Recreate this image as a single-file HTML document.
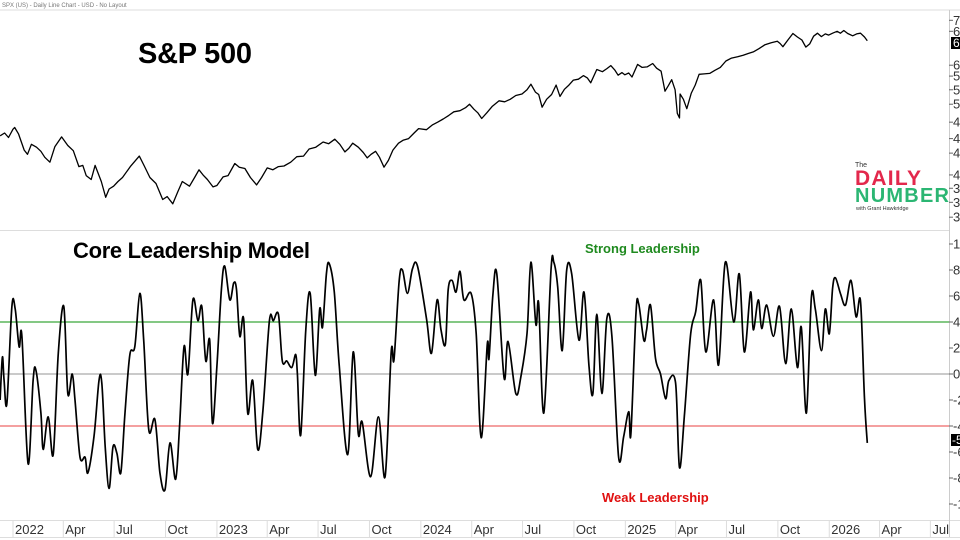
<!DOCTYPE html>
<html><head><meta charset="utf-8">
<style>
html,body{margin:0;padding:0;width:960px;height:540px;overflow:hidden;background:#fff;}
svg{display:block;font-family:"Liberation Sans",sans-serif;}
</style></head>
<body>
<svg id="chart" width="960" height="540" viewBox="0 0 960 540">
  <text x="2" y="7" font-size="6" fill="#777">SPX (US) - Daily Line Chart - USD - No Layout</text>
  <line x1="0" y1="10" x2="960" y2="10" stroke="#ddd"/>
  <line x1="0" y1="230.5" x2="949" y2="230.5" stroke="#ddd"/>
  <line x1="0" y1="520.5" x2="960" y2="520.5" stroke="#ddd"/>
  <line x1="0" y1="537.5" x2="960" y2="537.5" stroke="#ddd"/>
  <line x1="949.5" y1="10" x2="949.5" y2="537" stroke="#ccc"/>
  <g id="xaxis"></g>
  <g id="topaxis"></g>
  <g id="botaxis"></g>
  <line x1="0" y1="322" x2="949" y2="322" stroke="#3aa63a" stroke-width="1.2"/>
  <line x1="0" y1="374" x2="949" y2="374" stroke="#aaa" stroke-width="1.2"/>
  <line x1="0" y1="426" x2="949" y2="426" stroke="#f08080" stroke-width="1.4"/>
  <path id="spxLine" fill="none" stroke="#000" stroke-width="1.3" stroke-linejoin="round"/>
  <path id="lclLine" fill="none" stroke="#000" stroke-width="1.7" stroke-linejoin="round"/>
  <text x="138" y="63" font-size="29" font-weight="bold" fill="#000" textLength="114">S&amp;P 500</text>
  <text x="73" y="258" font-size="22" font-weight="bold" fill="#000" textLength="237">Core Leadership Model</text>
  <text x="585" y="253" font-size="13" font-weight="bold" fill="#1f8a1f">Strong Leadership</text>
  <text x="602" y="502" font-size="13" font-weight="bold" fill="#e01010">Weak Leadership</text>
  <g>
    <text x="855" y="167" font-size="7" fill="#333">The</text>
    <text x="855" y="185" font-size="21" font-weight="bold" fill="#e3284c" textLength="66">DAILY</text>
    <text x="855" y="202" font-size="20" font-weight="bold" fill="#2bb673" textLength="94">NUMBER</text>
    <text x="856" y="210" font-size="5.5" fill="#333">with Grant Hawkridge</text>
  </g>
  <g><rect x="951" y="37" width="9" height="12" fill="#000"/><text x="953" y="47" font-size="12" fill="#fff">6</text></g>
  <g><rect x="951" y="434" width="9" height="12" fill="#000"/><text x="952" y="444" font-size="12" fill="#fff">-5</text></g>
</svg>
<script>
const spxDays = [-23,-15,-8,0,3,10,20,26,33,42,50,57,66,75,87,98,108,118,125,131,140,147,158,166,172,180,188,196,210,226,235,245,256,268,276,286,295,303,316,325,333,340,348,358,365,376,385,397,405,415,425,436,445,455,465,475,485,497,508,520,530,542,555,565,576,585,594,601,608,618,627,634,641,649,656,664,672,680,690,698,708,718,726,740,751,760,770,780,789,800,810,817,825,832,839,848,858,870,880,890,900,911,920,927,935,941,947,955,964,972,979,987,995,1003,1012,1021,1028,1034,1045,1055,1063,1070,1077,1083,1090,1095,1102,1108,1118,1126,1135,1145,1152,1160,1167,1173,1179,1185,1189,1193,1194,1200,1206,1214,1221,1228,1237,1247,1256,1266,1276,1286,1297,1307,1316,1325,1335,1346,1357,1368,1373,1378,1387,1396,1404,1412,1419,1426,1433,1440,1447,1454,1460,1467,1475,1481,1487,1494,1503,1510,1517,1524,1529];
const spxValues = [4650,4700,4620,4770,4800,4680,4400,4330,4500,4450,4380,4280,4200,4460,4630,4480,4390,4130,4150,3990,3930,4150,3900,3670,3790,3830,3900,3960,4130,4300,4140,3960,3870,3640,3680,3580,3750,3900,3830,3960,4080,4000,3930,3820,3840,3970,3990,4180,4120,4100,3960,3850,3960,4110,4080,4130,4140,4200,4290,4300,4420,4450,4540,4510,4590,4500,4370,4430,4520,4450,4360,4270,4330,4380,4280,4120,4230,4400,4520,4570,4600,4700,4780,4760,4850,4900,4960,5030,5100,5120,5180,5250,5150,5080,4970,5080,5210,5320,5300,5350,5430,5460,5550,5670,5500,5450,5190,5350,5450,5650,5410,5560,5650,5760,5780,5860,5810,5700,6000,5950,6020,6090,5990,5870,5930,5880,5920,5830,6120,6050,6060,6140,6030,5960,5520,5640,5770,5550,5070,4980,5460,5350,5160,5480,5650,5890,5900,5910,5980,6050,6200,6270,6300,6340,6380,6420,6500,6600,6650,6690,6630,6550,6720,6890,6800,6720,6540,6620,6820,6900,6810,6880,6850,6900,6950,6900,6970,6890,6830,6880,6900,6800,6700];
const lclDays = [-23,-19,-16,-11,-2,4,11,16,27,36,41,50,54,63,72,81,91,98,106,111,120,129,134,145,154,159,165,172,179,186,193,200,209,218,227,234,243,254,263,272,281,291,298,306,313,322,331,338,345,352,357,365,373,379,388,395,400,406,413,420,429,438,447,459,466,475,482,490,499,506,509,515,524,532,541,549,554,561,566,575,584,599,609,618,625,640,654,666,677,682,691,697,706,715,724,740,749,759,766,774,779,786,793,800,807,820,829,838,849,852,859,866,879,886,900,909,920,927,936,941,950,963,968,975,983,991,1000,1013,1022,1031,1038,1045,1054,1063,1072,1084,1093,1102,1106,1115,1120,1129,1134,1141,1150,1159,1168,1174,1186,1193,1202,1213,1222,1231,1240,1254,1263,1275,1290,1300,1309,1320,1325,1334,1340,1349,1361,1372,1383,1393,1404,1411,1420,1429,1436,1447,1454,1461,1467,1472,1481,1490,1500,1509,1517,1524,1529];
const lclValues = [-2.0,1.3,-0.5,-2.25,5.2,5.0,2.1,2.9,-6.9,-0.5,0.3,-3.0,-5.8,-3.3,-6.2,1.6,5.2,-1.5,0,-2,-6.4,-6.4,-7.6,-4.8,-0.5,-0.7,-5.6,-8.8,-5.6,-6.1,-7.6,-3.3,1.45,2.1,6.2,2.6,-4.3,-3.5,-7.6,-8.9,-5.3,-8.1,-4.1,2.1,0,5.7,4.1,5.2,1.0,2.6,-3.8,0.6,6.5,8.3,5.7,7.0,6.5,2.9,4.2,-3.0,-0.5,-5.8,-3.0,4.1,4.1,4.6,1.0,1.0,0.5,1.5,0,-4.7,3.4,6.2,-0.1,5.0,3.6,7.7,8.5,6.3,0.6,-6.2,1.7,-4.6,-3.7,-7.9,-3.3,-7.9,1.7,1.1,7.1,8.0,6.2,8.1,8.3,4.3,1.6,5.7,3.4,2.3,6.5,7.2,6.3,7.9,5.7,6.2,3.1,-4.9,2.3,1.2,6.1,7.7,-0.3,2.5,-1.5,-0.2,3.1,8.6,3.8,5.4,-3.0,8.0,8.6,6.7,1.8,8.0,7.7,2.6,6.3,0.6,-1.5,4.6,-1.5,4.3,2.9,-6.4,-4.8,-2.9,-4.6,4.7,5.4,2.6,3.4,5.3,1.2,0,-1.9,-0.5,-0.7,-7.2,-3.0,3.1,4.8,7.2,1.7,5.7,0.7,8.6,4.0,7.7,1.7,6.3,3.4,5.7,3.5,5.3,2.9,5.2,0.8,5.0,0.5,3.6,-3.0,5.9,5.0,1.8,5.0,3.1,6.6,7.4,6.2,5.3,7.2,4.4,5.6,-1.9,-5.3];
const monthLabels = ["2022","Apr","Jul","Oct","2023","Apr","Jul","Oct","2024","Apr","Jul","Oct","2025","Apr","Jul","Oct","2026","Apr","Jul"];
const monthDays = [0,90,181,273,365,455,546,638,730,821,912,1004,1096,1186,1277,1369,1461,1551,1642];
const spxTicks = [7250,6950,6100,5850,5550,5250,4900,4600,4350,4000,3800,3600,3400];
const lclTicks = [10,8,6,4,2,0,-2,-4,-6,-8,-10];

const NS = "http://www.w3.org/2000/svg";
function xOf(d){ return 13 + d * 0.5587; }
function ySpx(v){ return 133 - 260 * Math.log(v / 4700); }
function yLcl(v){ return 374 - 13 * v; }
function pts(days, vals, yf){
  const n = Math.min(days.length, vals.length), p = [];
  for (let i = 0; i < n; i++) p.push([xOf(days[i]), yf(vals[i])]);
  return p;
}
function linePath(p){
  return p.map((q, i) => (i ? "L" : "M") + q[0].toFixed(1) + " " + q[1].toFixed(1)).join("");
}
function smoothPath(p){
  let s = "M" + p[0][0].toFixed(1) + " " + p[0][1].toFixed(1);
  for (let i = 0; i < p.length - 1; i++) {
    const p0 = p[i - 1] || p[i], p1 = p[i], p2 = p[i + 1], p3 = p[i + 2] || p2;
    const c1x = p1[0] + (p2[0] - p0[0]) / 6, c1y = p1[1] + (p2[1] - p0[1]) / 6;
    const c2x = p2[0] - (p3[0] - p1[0]) / 6, c2y = p2[1] - (p3[1] - p1[1]) / 6;
    s += "C" + c1x.toFixed(1) + " " + c1y.toFixed(1) + " " + c2x.toFixed(1) + " " + c2y.toFixed(1) + " " + p2[0].toFixed(1) + " " + p2[1].toFixed(1);
  }
  return s;
}
document.getElementById("spxLine").setAttribute("d", linePath(pts(spxDays, spxValues, ySpx)));
document.getElementById("lclLine").setAttribute("d", smoothPath(pts(lclDays, lclValues, yLcl)));

const xa = document.getElementById("xaxis");
monthLabels.forEach((lab, i) => {
  const x = xOf(monthDays[i]);
  const l = document.createElementNS(NS, "line");
  l.setAttribute("x1", x); l.setAttribute("x2", x); l.setAttribute("y1", 521); l.setAttribute("y2", 537);
  l.setAttribute("stroke", "#ddd");
  
  
  xa.appendChild(l);
  const t = document.createElementNS(NS, "text");
  t.setAttribute("x", x + 2); t.setAttribute("y", 534);
  t.setAttribute("font-size", "13"); t.setAttribute("fill", "#333");
  t.textContent = lab;
  
  
  xa.appendChild(t);
});
function yTicks(g, ticks, yf){
  ticks.forEach(v => {
    const y = yf(v);
    const l = document.createElementNS(NS, "line");
    l.setAttribute("x1", 949); l.setAttribute("x2", 953); l.setAttribute("y1", y); l.setAttribute("y2", y);
    l.setAttribute("stroke", "#666");
    
    
    g.appendChild(l);
    const t = document.createElementNS(NS, "text");
    t.setAttribute("x", 953); t.setAttribute("y", y + 4.5);
    t.setAttribute("font-size", "13"); t.setAttribute("fill", "#333");
    t.textContent = String(v);
    
    
    g.appendChild(t);
  });
}
yTicks(document.getElementById("topaxis"), spxTicks, ySpx);
yTicks(document.getElementById("botaxis"), lclTicks, yLcl);
</script>
</body></html>
